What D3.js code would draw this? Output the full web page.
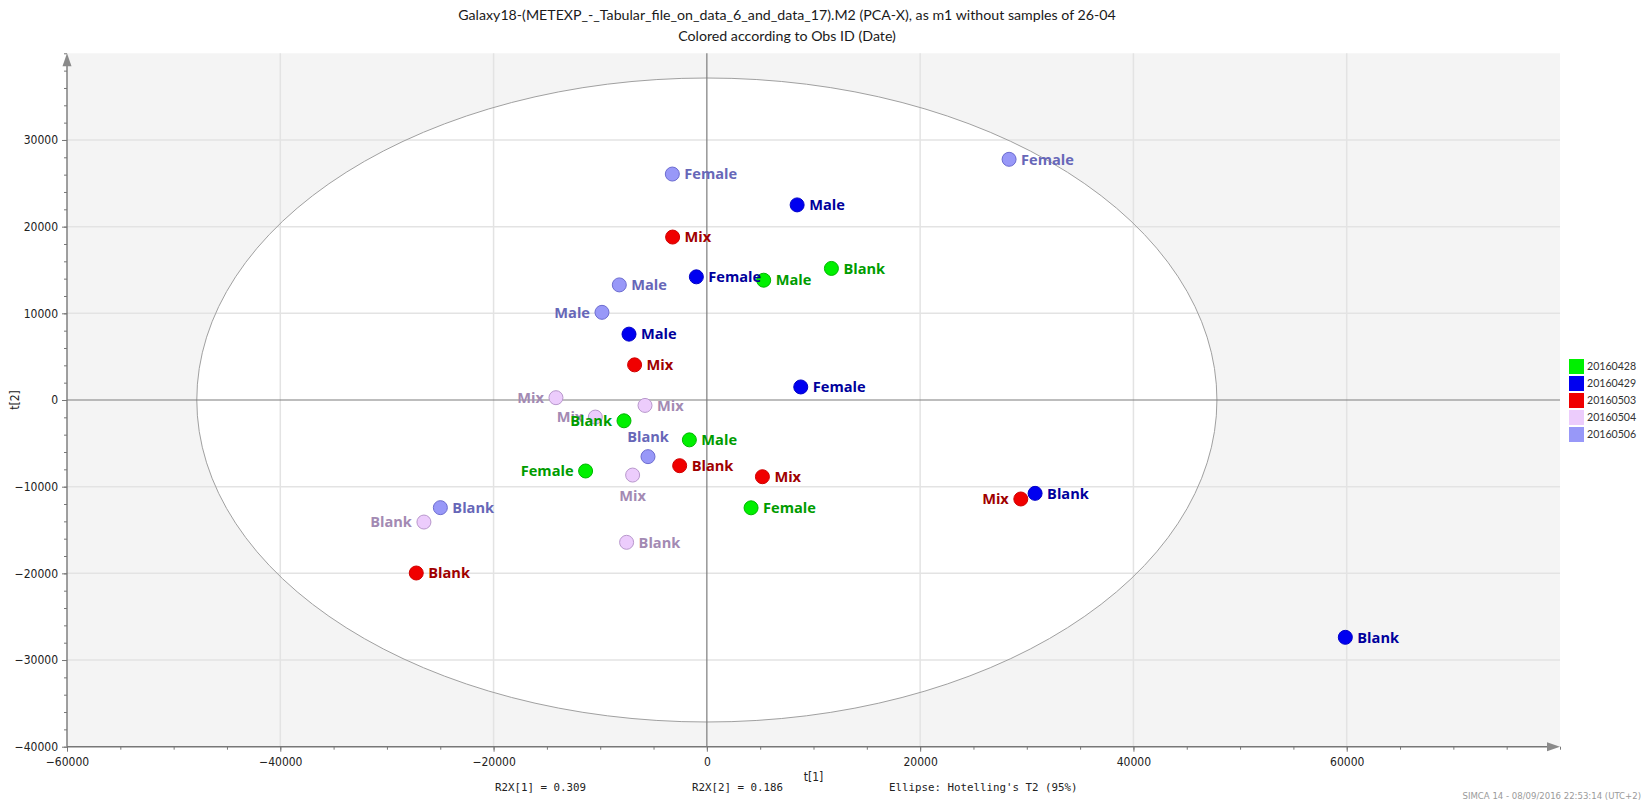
<!DOCTYPE html>
<html>
<head>
<meta charset="utf-8">
<script src="https://cdn.jsdelivr.net/npm/d3@7"></script>
<style>
  html, body { margin: 0; padding: 0; background: #ffffff; }
  svg { display: block; }
  .narrow { font-family: "Liberation Sans Narrow", "Arial Narrow", "DejaVu Sans Condensed", "Roboto", sans-serif; font-stretch: condensed; }
  .mono { font-family: "DejaVu Sans Mono", "Liberation Mono", monospace; }
</style>
</head>
<body>
<svg id="chart" width="1642" height="802"></svg>
<script>
// Score plot t[1] vs t[2], observations coloured by date
const dates = ["20160428", "20160429", "20160503", "20160504", "20160506"];
const dateFill = ["#00f000", "#0000f0", "#f00000", "#ecccfc", "#9898f8"];
const dateStroke = ["#00b800", "#0000c8", "#d00000", "#b898cc", "#6c6cd0"];
const dateText = ["#009c00", "#00009c", "#a00000", "#a38ab3", "#6767b8"];

const obsDate = [
  0, 0, 0, 0, 0, 0,
  1, 1, 1, 1, 1, 1,
  2, 2, 2, 2, 2, 2,
  3, 3, 3, 3, 3, 3,
  4, 4, 4, 4, 4, 4
];
const obsName = [
  "Blank", "Male", "Blank", "Male", "Female", "Female",
  "Male", "Female", "Male", "Female", "Blank", "Blank",
  "Mix", "Mix", "Blank", "Mix", "Mix", "Blank",
  "Mix", "Mix", "Mix", "Mix", "Blank", "Blank",
  "Female", "Female", "Male", "Male", "Blank", "Blank"
];
const t1 = [
  11680, 5330, -7770, -1640, -11370, 4145,
  8465, -985, -7300, 8805, 30780, 59870,
  -3210, -6775, -2550, 5210, 29440, -27250,
  -14150, -5800, -10460, -6960, -7525, -26530,
  -3238, 28340, -8210, -9835, -5520, -24990
];
const t2 = [
  15180, 13820, -2400, -4600, -8190, -12440,
  22510, 14210, 7600, 1505, -10770, -27380,
  18800, 4055, -7580, -8850, -11420, -19960,
  267, -625, -1970, -8660, -16420, -14080,
  26070, 27770, 13280, 10115, -6535, -12420
];
// where each name sits relative to its point: r(ight), l(eft), a(bove), b(elow)
const labelSide = [
  "r", "r", "l", "r", "l", "r",
  "r", "r", "r", "r", "r", "r",
  "r", "r", "r", "r", "l", "r",
  "l", "r", "l", "b", "r", "l",
  "r", "r", "r", "l", "a", "r"
];

// Hotelling's T2 (95%) limits
const ellipseT1 = 47830;
const ellipseT2 = 37150;

const xMajor = [-60000, -40000, -20000, 0, 20000, 40000, 60000];
const yMajor = [-40000, -30000, -20000, -10000, 0, 10000, 20000, 30000];

const titleLines = [
  "Galaxy18-(METEXP_-_Tabular_file_on_data_6_and_data_17).M2 (PCA-X), as m1 without samples of 26-04",
  "Colored according to Obs ID (Date)"
];
const footnotes = ["R2X[1] = 0.309", "R2X[2] = 0.186", "Ellipse: Hotelling's T2 (95%)"];
const stamp = "SIMCA 14 - 08/09/2016 22:53:14 (UTC+2)";

const svg = d3.select("#chart");
const plotL = 67, plotR = 1560, plotT = 53.3, plotB = 746.7;

const x = d3.scaleLinear().domain([-60000, 80000]).range([plotL, plotR]);
const y = d3.scaleLinear().domain([-40000, 40000]).range([plotB, plotT]);

// plot background outside the ellipse
svg.append("rect")
  .attr("x", plotL).attr("y", plotT)
  .attr("width", plotR - plotL).attr("height", plotB - plotT)
  .attr("fill", "#f4f4f4");

svg.append("ellipse")
  .attr("cx", x(0)).attr("cy", y(0))
  .attr("rx", x(ellipseT1) - x(0)).attr("ry", y(0) - y(ellipseT2))
  .attr("fill", "#ffffff");

// grid
const grid = svg.append("g").attr("stroke", "#e3e3e3").attr("stroke-width", 1.5);
grid.selectAll("line.gx").data(xMajor.filter(v => v !== 0 && v !== -60000))
  .join("line")
  .attr("x1", d => x(d)).attr("x2", d => x(d))
  .attr("y1", plotT).attr("y2", plotB);
grid.selectAll("line.gy").data(yMajor.filter(v => v !== 0 && v !== -40000))
  .join("line")
  .attr("x1", plotL).attr("x2", plotR)
  .attr("y1", d => y(d)).attr("y2", d => y(d));

svg.append("ellipse")
  .attr("cx", x(0)).attr("cy", y(0))
  .attr("rx", x(ellipseT1) - x(0)).attr("ry", y(0) - y(ellipseT2))
  .attr("fill", "none").attr("stroke", "#a0a0a0").attr("stroke-width", 1);

// zero lines
svg.append("line")
  .attr("x1", plotL).attr("x2", plotR).attr("y1", y(0)).attr("y2", y(0))
  .attr("stroke", "#7c7c7c").attr("stroke-width", 1.2);
svg.append("line")
  .attr("x1", x(0)).attr("x2", x(0)).attr("y1", plotT).attr("y2", plotB)
  .attr("stroke", "#7c7c7c").attr("stroke-width", 1.2);

// axes
const tickFont = g => g.selectAll("text")
  .attr("class", "narrow").attr("font-size", 12).attr("fill", "#222");

const xMinor = d3.range(-60000, 80001, 5000);
const yMinor = d3.range(-40000, 40001, 2000);

svg.append("g").attr("transform", `translate(0,${plotB})`)
  .call(d3.axisBottom(x).tickValues(xMinor).tickSize(3).tickFormat(""))
  .call(g => g.select(".domain").remove())
  .call(g => g.selectAll("line").attr("stroke", "#777"));
svg.append("g").attr("transform", `translate(0,${plotB})`)
  .call(d3.axisBottom(x).tickValues(xMajor).tickSize(5).tickPadding(6).tickFormat(d3.format("d")))
  .call(g => g.select(".domain").remove())
  .call(g => g.selectAll("line").attr("stroke", "#777"))
  .call(tickFont);

svg.append("g").attr("transform", `translate(${plotL},0)`)
  .call(d3.axisLeft(y).tickValues(yMinor).tickSize(3).tickFormat(""))
  .call(g => g.select(".domain").remove())
  .call(g => g.selectAll("line").attr("stroke", "#777"));
svg.append("g").attr("transform", `translate(${plotL},0)`)
  .call(d3.axisLeft(y).tickValues(yMajor).tickSize(5).tickPadding(4).tickFormat(d3.format("d")))
  .call(g => g.select(".domain").remove())
  .call(g => g.selectAll("line").attr("stroke", "#777"))
  .call(tickFont);

// axis lines with arrow heads
svg.append("line").attr("x1", plotL).attr("x2", plotR - 4).attr("y1", plotB).attr("y2", plotB)
  .attr("stroke", "#777").attr("stroke-width", 1.4);
svg.append("path")
  .attr("d", `M${plotR},${plotB} L${plotR - 13},${plotB - 4.5} L${plotR - 13},${plotB + 4.5} Z`)
  .attr("fill", "#8a8a8a");
svg.append("line").attr("x1", plotL).attr("x2", plotL).attr("y1", plotT + 4).attr("y2", plotB)
  .attr("stroke", "#777").attr("stroke-width", 1.4);
svg.append("path")
  .attr("d", `M${plotL},${plotT} L${plotL - 4.5},${plotT + 13} L${plotL + 4.5},${plotT + 13} Z`)
  .attr("fill", "#8a8a8a");

// axis titles
svg.append("text").attr("class", "narrow")
  .attr("x", (plotL + plotR) / 2).attr("y", 781)
  .attr("text-anchor", "middle").attr("font-size", 12).attr("fill", "#222")
  .text("t[1]");
svg.append("text").attr("class", "narrow")
  .attr("transform", `translate(19,${y(0)}) rotate(-90)`)
  .attr("text-anchor", "middle").attr("font-size", 12).attr("fill", "#222")
  .text("t[2]");

// title
svg.append("g").selectAll("text").data(titleLines).join("text")
  .attr("x", 787).attr("y", (d, i) => 20 + i * 21)
  .attr("text-anchor", "middle")
  .attr("font-family", "Lato, 'Open Sans', sans-serif")
  .attr("font-size", 14.2).attr("fill", "#1a1a1a")
  .text(d => d);

// footnotes
const footX = [495, 692, 889];
svg.append("g").selectAll("text").data(footnotes).join("text")
  .attr("class", "mono")
  .attr("x", (d, i) => footX[i]).attr("y", 791)
  .attr("font-size", 10.8).attr("fill", "#222")
  .text(d => d);

svg.append("text").attr("class", "narrow")
  .attr("x", 1641).attr("y", 799)
  .attr("text-anchor", "end").attr("font-size", 9.5).attr("fill", "#9a9a9a")
  .text(stamp);

// observations
const obs = t1.map((v, i) => ({ t1: v, t2: t2[i], date: obsDate[i], name: obsName[i], side: labelSide[i] }));
const drawOrder = [4, 3, 2, 1, 0];
const ordered = drawOrder.flatMap(g => obs.filter(o => o.date === g));

svg.append("g").selectAll("circle").data(ordered).join("circle")
  .attr("cx", d => x(d.t1)).attr("cy", d => y(d.t2))
  .attr("r", 7)
  .attr("fill", d => dateFill[d.date])
  .attr("stroke", d => dateStroke[d.date])
  .attr("stroke-width", 1);

const gap = 12;
svg.append("g").selectAll("text").data(ordered).join("text")
  .attr("x", d => d.side === "r" ? x(d.t1) + gap : d.side === "l" ? x(d.t1) - gap : x(d.t1))
  .attr("y", d => d.side === "a" ? y(d.t2) - 20 : d.side === "b" ? y(d.t2) + 21 : y(d.t2))
  .attr("dy", "0.36em")
  .attr("text-anchor", d => d.side === "r" ? "start" : d.side === "l" ? "end" : "middle")
  .attr("font-family", "'Open Sans', 'Noto Sans', sans-serif")
  .attr("font-weight", 700)
  .attr("font-size", 14.6)
  .attr("fill", d => dateText[d.date])
  .text(d => d.name);

// legend
const legend = svg.append("g").attr("transform", "translate(1569,359)");
const item = legend.selectAll("g").data(dates).join("g")
  .attr("transform", (d, i) => `translate(0,${i * 17})`);
item.append("rect").attr("width", 15).attr("height", 15)
  .attr("fill", (d, i) => dateFill[i]);
item.append("text")
  .attr("x", 18).attr("y", 7.5).attr("dy", "0.36em")
  .attr("font-family", "Lato, 'Open Sans', sans-serif")
  .attr("font-size", 10.6).attr("fill", "#333")
  .text(d => d);
</script>
</body>
</html>
